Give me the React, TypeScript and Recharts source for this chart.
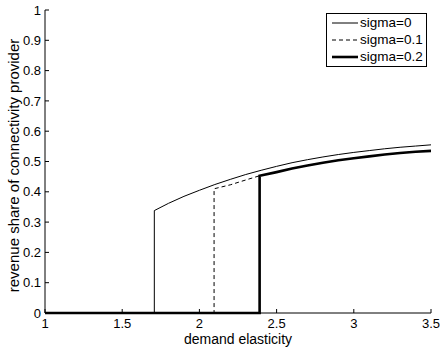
import { LineChart, Line, XAxis, YAxis, Legend, Label } from "recharts"

const FONT = '"Liberation Sans", Arial, Helvetica, sans-serif'

const xTicks = [1, 1.5, 2, 2.5, 3, 3.5]
const yTicks = [0, 0.1, 0.2, 0.3, 0.4, 0.5, 0.6, 0.7, 0.8, 0.9, 1]

// sigma = 0
const sigma0X = [1, 1.708, 1.708, 1.8, 1.9, 2.0, 2.1, 2.2, 2.3, 2.4, 2.5, 2.6, 2.7, 2.8, 2.9, 3.0, 3.1, 3.2, 3.3, 3.4, 3.5]
const sigma0Y = [0, 0, 0.338, 0.362, 0.385, 0.405, 0.424, 0.441, 0.457, 0.471, 0.484, 0.496, 0.506, 0.515, 0.523, 0.53, 0.536, 0.542, 0.547, 0.551, 0.555]

// sigma = 0.1
const sigma1X = [1, 2.095, 2.095, 2.2, 2.3, 2.39, 2.5, 2.6, 2.7, 2.8, 2.9, 3.0, 3.1, 3.2, 3.3, 3.4, 3.5]
const sigma1Y = [0, 0, 0.41, 0.423, 0.439, 0.453, 0.465, 0.477, 0.487, 0.496, 0.504, 0.511, 0.517, 0.523, 0.528, 0.532, 0.535]

// sigma = 0.2
const sigma2X = [1, 2.39, 2.39, 2.5, 2.6, 2.7, 2.8, 2.9, 3.0, 3.1, 3.2, 3.3, 3.4, 3.5]
const sigma2Y = [0, 0, 0.453, 0.465, 0.477, 0.487, 0.496, 0.504, 0.511, 0.517, 0.523, 0.528, 0.532, 0.535]

const toRows = (xs: number[], ys: number[]) => xs.map((x, i) => ({ x, y: ys[i] }))

const series = [
  { name: "sigma=0", data: toRows(sigma0X, sigma0Y), width: 1, dash: undefined as string | undefined },
  { name: "sigma=0.1", data: toRows(sigma1X, sigma1Y), width: 1, dash: "4 3" },
  { name: "sigma=0.2", data: toRows(sigma2X, sigma2Y), width: 2.6, dash: undefined },
]

const tickStyle = { fontSize: 13, fill: "#000", fontFamily: FONT }

function LegendBox() {
  return (
    <div
      style={{
        border: "1px solid #000",
        background: "#fff",
        width: 94,
        padding: "1px 0 1px 5px",
        fontFamily: FONT,
        fontSize: 13.5,
        color: "#000",
      }}
    >
      {series.map((s) => (
        <div key={s.name} style={{ display: "flex", alignItems: "center", height: 16.7 }}>
          <svg width={28} height={6} style={{ display: "block" }}>
            <line x1={0} y1={3} x2={26} y2={3} stroke="#000" strokeWidth={s.width} strokeDasharray={s.dash} />
          </svg>
          <span style={{ lineHeight: "16px" }}>{s.name}</span>
        </div>
      ))}
    </div>
  )
}

function YTitle(props: any) {
  const vb = props.viewBox
  const cx = vb.x + 13
  const cy = vb.y + vb.height / 2 + 4
  return (
    <text
      x={cx}
      y={cy}
      transform={`rotate(-90, ${cx}, ${cy})`}
      textAnchor="middle"
      dominantBaseline="central"
      fontSize={15}
      fontFamily={FONT}
      fill="#000"
    >
      revenue share of connectivity provider
    </text>
  )
}

export default function App() {
  return (
    <div style={{ position: "absolute", left: 0, top: 0, background: "#fff" }}>
      <LineChart width={441} height={354} margin={{ top: 10, right: 10, bottom: 0, left: 0 }}>
        <XAxis
          dataKey="x"
          type="number"
          domain={[1, 3.5]}
          ticks={xTicks}
          allowDuplicatedCategory={false}
          height={41}
          tick={tickStyle}
          tickSize={-4}
          tickMargin={10}
          axisLine={{ stroke: "#000" }}
          tickLine={{ stroke: "#000" }}
        >
          <Label value="demand elasticity" position="insideBottom" offset={10} style={{ fontSize: 14, fill: "#000", fontFamily: FONT }} />
        </XAxis>
        <YAxis
          type="number"
          domain={[0, 1]}
          ticks={yTicks}
          width={45}
          tick={tickStyle}
          tickSize={-4}
          tickMargin={8}
          axisLine={{ stroke: "#000" }}
          tickLine={{ stroke: "#000" }}
        >
          <Label content={YTitle} />
        </YAxis>
        <Legend
          layout="vertical"
          align="center"
          verticalAlign="middle"
          content={() => <LegendBox />}
          wrapperStyle={{ left: 326, top: 13, width: 101, height: 54 }}
        />
        {series.map((s) => (
          <Line
            key={s.name}
            data={s.data}
            dataKey="y"
            name={s.name}
            type="linear"
            stroke="#000"
            strokeWidth={s.width}
            strokeDasharray={s.dash}
            dot={false}
            activeDot={false}
            isAnimationActive={false}
          />
        ))}
      </LineChart>
    </div>
  )
}
